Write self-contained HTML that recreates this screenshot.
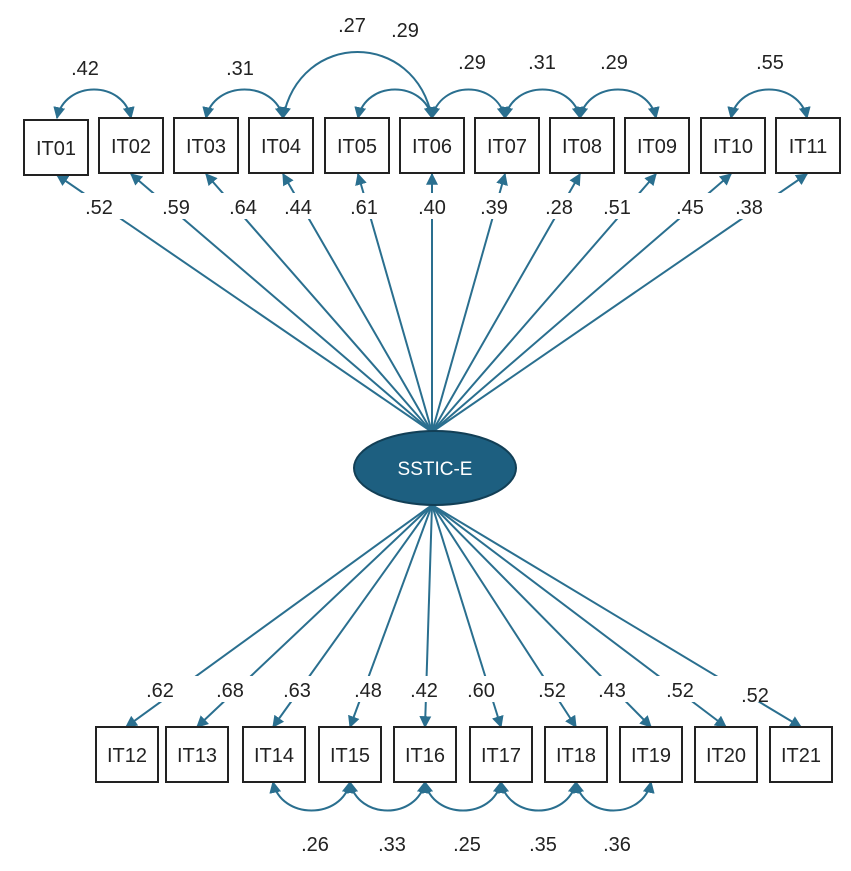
<!DOCTYPE html>
<html><head><meta charset="utf-8"><style>
html,body{margin:0;padding:0;background:#fff;}
svg{display:block;}
text{font-family:"Liberation Sans",sans-serif;font-size:20px;fill:#222;text-anchor:middle;}
.b{fill:#fff;stroke:#222;stroke-width:2;}
.l{stroke:#2a6f8f;stroke-width:2;fill:none;}
</style></head><body>
<svg width="851" height="871" viewBox="0 0 851 871" xmlns="http://www.w3.org/2000/svg">
<defs>
<marker id="a" viewBox="0 0 10 10" refX="9" refY="5" markerWidth="6" markerHeight="6" orient="auto-start-reverse"><path d="M0,0 L10,5 L0,10 z" fill="#2a6f8f"/></marker>
</defs>
<!-- top loadings -->
<g class="l" marker-end="url(#a)">
<line x1="432" y1="432" x2="57" y2="175" marker-end="url(#a)"/>
<line x1="432" y1="432" x2="131" y2="174" marker-end="url(#a)"/>
<line x1="432" y1="432" x2="206" y2="174" marker-end="url(#a)"/>
<line x1="432" y1="432" x2="283" y2="174" marker-end="url(#a)"/>
<line x1="432" y1="432" x2="358" y2="174" marker-end="url(#a)"/>
<line x1="432" y1="432" x2="432" y2="174" marker-end="url(#a)"/>
<line x1="432" y1="432" x2="505" y2="174" marker-end="url(#a)"/>
<line x1="432" y1="432" x2="580" y2="174" marker-end="url(#a)"/>
<line x1="432" y1="432" x2="656" y2="174" marker-end="url(#a)"/>
<line x1="432" y1="432" x2="731" y2="174" marker-end="url(#a)"/>
<line x1="432" y1="432" x2="807" y2="174" marker-end="url(#a)"/>
</g>
<!-- bottom loadings -->
<g class="l">
<line x1="432" y1="505" x2="126" y2="727" marker-end="url(#a)"/>
<line x1="432" y1="505" x2="197" y2="727" marker-end="url(#a)"/>
<line x1="432" y1="505" x2="273" y2="727" marker-end="url(#a)"/>
<line x1="432" y1="505" x2="350" y2="727" marker-end="url(#a)"/>
<line x1="432" y1="505" x2="425" y2="727" marker-end="url(#a)"/>
<line x1="432" y1="505" x2="501" y2="727" marker-end="url(#a)"/>
<line x1="432" y1="505" x2="576" y2="727" marker-end="url(#a)"/>
<line x1="432" y1="505" x2="651" y2="727" marker-end="url(#a)"/>
<line x1="432" y1="505" x2="726" y2="727" marker-end="url(#a)"/>
<line x1="432" y1="505" x2="801" y2="727" marker-end="url(#a)"/>
</g>
<!-- label backgrounds -->
<g fill="#fff">
<rect x="78" y="193" width="730" height="26"/>
<rect x="130" y="676" width="680" height="26"/>
</g>
<g>
<text x="99" y="214">.52</text><text x="176" y="214">.59</text><text x="243" y="214">.64</text>
<text x="298" y="214">.44</text><text x="364" y="214">.61</text><text x="432" y="214">.40</text>
<text x="494" y="214">.39</text><text x="559" y="214">.28</text><text x="617" y="214">.51</text>
<text x="690" y="214">.45</text><text x="749" y="214">.38</text>
<text x="160" y="697">.62</text><text x="230" y="697">.68</text><text x="297" y="697">.63</text>
<text x="368" y="697">.48</text><text x="424" y="697">.42</text><text x="481" y="697">.60</text>
<text x="552" y="697">.52</text><text x="612" y="697">.43</text><text x="680" y="697">.52</text>
<text x="755" y="702">.52</text>
</g>
<!-- top covariances -->
<g class="l" marker-start="url(#a)" marker-end="url(#a)">
<path d="M57,118 C65,80 123,80 131,118"/>
<path d="M206,118 C214,80 275,80 283,118"/>
<path d="M283,118 C300,30 415,30 432,118"/>
<path d="M358,118 C366,80 424,80 432,118"/>
<path d="M432,118 C440,80 497,80 505,118"/>
<path d="M505,118 C513,80 572,80 580,118"/>
<path d="M580,118 C588,80 648,80 656,118"/>
<path d="M731,118 C739,80 799,80 807,118"/>
</g>
<g>
<text x="85" y="75">.42</text><text x="240" y="75">.31</text><text x="352" y="32">.27</text>
<text x="405" y="37">.29</text><text x="472" y="69">.29</text><text x="542" y="69">.31</text>
<text x="614" y="69">.29</text><text x="770" y="69">.55</text>
</g>
<!-- bottom covariances -->
<g class="l" marker-start="url(#a)" marker-end="url(#a)">
<path d="M273,782 C281,820 342,820 350,782"/>
<path d="M350,782 C358,820 417,820 425,782"/>
<path d="M425,782 C433,820 493,820 501,782"/>
<path d="M501,782 C509,820 568,820 576,782"/>
<path d="M576,782 C584,820 643,820 651,782"/>
</g>
<g>
<text x="315" y="851">.26</text><text x="392" y="851">.33</text><text x="467" y="851">.25</text>
<text x="543" y="851">.35</text><text x="617" y="851">.36</text>
</g>
<!-- top boxes -->
<g>
<rect class="b" x="24" y="120" width="64" height="55"/><text x="56" y="155">IT01</text>
<rect class="b" x="99" y="118" width="64" height="55"/><text x="131" y="153">IT02</text>
<rect class="b" x="174" y="118" width="64" height="55"/><text x="206" y="153">IT03</text>
<rect class="b" x="249" y="118" width="64" height="55"/><text x="281" y="153">IT04</text>
<rect class="b" x="325" y="118" width="64" height="55"/><text x="357" y="153">IT05</text>
<rect class="b" x="400" y="118" width="64" height="55"/><text x="432" y="153">IT06</text>
<rect class="b" x="475" y="118" width="64" height="55"/><text x="507" y="153">IT07</text>
<rect class="b" x="550" y="118" width="64" height="55"/><text x="582" y="153">IT08</text>
<rect class="b" x="625" y="118" width="64" height="55"/><text x="657" y="153">IT09</text>
<rect class="b" x="701" y="118" width="64" height="55"/><text x="733" y="153">IT10</text>
<rect class="b" x="776" y="118" width="64" height="55"/><text x="808" y="153">IT11</text>
</g>
<!-- bottom boxes -->
<g>
<rect class="b" x="96" y="727" width="62" height="55"/><text x="127" y="762">IT12</text>
<rect class="b" x="166" y="727" width="62" height="55"/><text x="197" y="762">IT13</text>
<rect class="b" x="243" y="727" width="62" height="55"/><text x="274" y="762">IT14</text>
<rect class="b" x="319" y="727" width="62" height="55"/><text x="350" y="762">IT15</text>
<rect class="b" x="394" y="727" width="62" height="55"/><text x="425" y="762">IT16</text>
<rect class="b" x="470" y="727" width="62" height="55"/><text x="501" y="762">IT17</text>
<rect class="b" x="545" y="727" width="62" height="55"/><text x="576" y="762">IT18</text>
<rect class="b" x="620" y="727" width="62" height="55"/><text x="651" y="762">IT19</text>
<rect class="b" x="695" y="727" width="62" height="55"/><text x="726" y="762">IT20</text>
<rect class="b" x="770" y="727" width="62" height="55"/><text x="801" y="762">IT21</text>
</g>
<!-- latent -->
<ellipse cx="435" cy="468" rx="81" ry="37" fill="#1d5f80" stroke="#123f56" stroke-width="2"/>
<text x="435" y="475" style="fill:#fff;font-size:19px">SSTIC-E</text>
</svg>
</body></html>
